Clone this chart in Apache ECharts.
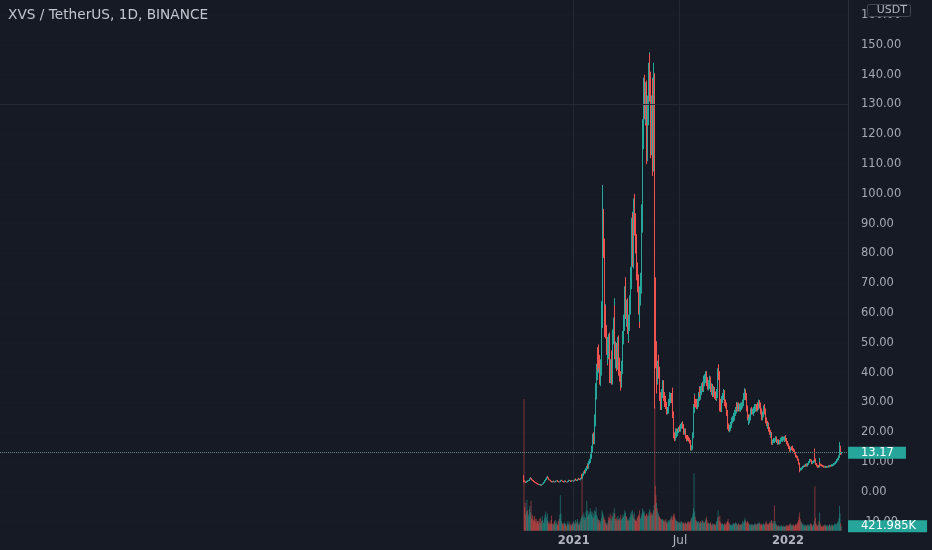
<!DOCTYPE html>
<html><head><meta charset="utf-8">
<script src="https://cdn.jsdelivr.net/npm/echarts@6/dist/echarts.min.js"></script>
<style>html,body{margin:0;padding:0;background:#161a25;}#c{width:932px;height:550px;}</style>
</head><body><div id="c"></div>
<script>
// ---------------- data ----------------
const chartTitle = 'XVS / TetherUS, 1D, BINANCE';
const currency = 'USDT';
const timeLabels = { '2021-01-01': '2021', '2021-07-01': 'Jul', '2022-01-01': '2022' };
const gridDates = ['2021-01-01', '2021-07-01'];
const priceMin = -10, priceMax = 160, priceStep = 10;
const refLevel = 130;
const firstDay = '2020-10-08';
const firstOpen = 4.6;

// daily closes, by month (open = previous close)
const closes = {
  '2020-10': [3.8,3.5,3.3,3.2,3.4, 3.6,3.5,3.7,3.9,4.1, 4.4,4.7,4.5,4.2,4.0, 3.8,3.7,3.5,3.3,3.2, 3.0,2.9,2.8,2.7],
  '2020-11': [2.6,2.5,2.4,2.5,2.3, 2.4,2.3,2.5,2.7,2.9, 3.2,3.5,3.8,4.2,4.5, 4.8,5.0,4.7,4.4,4.1, 3.9,3.7,3.6,3.4,3.3, 3.5,3.6,3.4,3.3,3.4],
  '2020-12': [3.5,3.6,3.8,3.7,3.5, 3.4,3.3,3.4,3.6,3.8, 3.9,3.7,3.5,3.4,3.3, 3.5,3.7,3.6,3.4,3.3, 3.4,3.5,3.7,3.9,3.8, 3.6,3.5,3.6,3.8,3.7, 3.6],
  '2021-01': [3.7,3.9,4.1,4.3,4.0, 3.8,4.0,4.2,4.5,4.3, 4.1,4.4,4.6,4.9,4.6, 5.3,5.8,6.5,7.0,6.6, 6.9,7.5,8.2,8.8,8.3, 9.0,9.8,10.5,11.2,12.0, 12.6],
  '2021-02': [14.5,16,18.5,17.5,21, 24,29,34,40,46, 43,47,44,41,38, 42,45,60,78,88, 82,66,57,60,54, 48,45,50],
  '2021-03': [47,51,44,39,42, 45,38,44,52,56, 60,47,44,48,45, 43,50,46,41,43, 39,37,40,42,46, 52,57,62,66,69, 61],
  '2021-04': [58,62,56,53,57, 60,63,72,80,88, 90,79,88,96,90, 86,83,78,74,70, 66,62,60,66,70, 78,92,112,120,128],
  '2021-05': [135,130,128,133,125, 116,128,136,140,142, 136,130,118,128,134, 112,120,138,72,52, 44,48,38,42,44, 40,38,32,30,29, 33],
  '2021-06': [34,36,35,32,30, 31,29,28,27,27.5, 29,30,31.5,32,31, 32,31,30,26,24, 19,18,19.5,20.5,19, 19.5,20,20.5,21,21.5],
  '2021-07': [21,21.5,22,22.5,22.8, 22,21,20,20.5,19.5, 18.5,18,17.6,18.5,18, 17.5,17,16.8,15.5,14.5, 15,16.5,19,23,28, 31,30,29.5,30,29, 29.5],
  '2021-08': [30,32,34,33,32.5, 34,35,35.5,35,36, 37.5,37,38,39,38.5, 37,36.5,35.5,36,36.6, 37.5,36,35,34,35, 33,33.5,34,33,32.5, 32],
  '2021-09': [32,33,36,40,39, 37,30,29,28,30, 31,32,33,33,31, 30,29,27.5,26.5,24, 22,21.5,21,21.5,22, 22.5,23,24,24.5,25],
  '2021-10': [25.5,25,26.5,27.5,29, 28,28.5,29,28.5,28, 28.6,28,29,28.5,29, 30,31,32,33,33.6, 32,30,28,26,25, 23.5,24,25,26,27, 27.5],
  '2021-11': [27,27,26.5,27.5,28, 28.5,28,28.5,28,29, 28.5,29.5,30,29,28, 27,26.5,25,26,27, 28,28.5,27,25.5,24, 23,22,22.5,22,21],
  '2021-12': [20,19,19.5,17,16.8, 16.4,17,17.5,17,17.5, 18,18,17,16.5,16.8, 17,16.5,16.8,17.2,17.5, 17.8,18,17.4,17.8,18, 17.4,18,18.5,17.5,16.5, 16],
  '2022-01': [15.8,15.5,15,14.8,14, 14.5,14.8,14.5,15,14.2, 13.8,13.4,13,12.5,12, 11.7,11.2,10.8,10.5,9.5, 8.2,7.4,7.8,7.6,7.9, 8.2,8.4,8.6,8.8,8.7, 9.0],
  '2022-02': [9.2,9.0,8.8,9.4,9.7, 10.0,10.4,10.7,10.5,10.0, 9.6,9.8,10.0,10.3,11.6, 10.8,10.2,9.4,9.0,8.8, 8.4,8.6,8.5,9.7,9.2, 9.0,8.9,8.8],
  '2022-03': [8.7,8.6,8.5,8.4,8.5, 8.4,8.3,8.4,8.4,8.5, 8.6,8.5,8.6,8.8,8.7, 8.9,9.0,8.9,9.0,9.2, 9.4,9.6,9.8,10.0,10.3, 10.6,11.0,11.4,11.8,12.2, 14.0],
  '2022-04': [12.8,13.17]
};

// typical daily wick length beyond the body, by month (price units)
const wickLen = {
  '2020-10': [0,.15,.1,.2,.15, .1,.2,.15,.1,.25, .15,.25,.1,.15,.1, .15,.1,.2,.1,.15, .1,.15,.1,.1],
  '2020-11': [.1,.15,.1,.15,.1, .1,.15,.1,.15,.1, .15,.2,.15,.25,.2, .25,.25,.15,.2,.15, .1,.15,.1,.15,.1, .15,.1,.15,.1,.1],
  '2020-12': [.1,.15,.1,.1,.15, .1,.1,.15,.1,.15, .2,.1,.1,.15,.1, .1,.15,.1,.1,.1, .15,.1,.15,.2,.1, .1,.15,.1,.15,.1, .1],
  '2021-01': [.1,.15,.1,.2,.15, .1,.15,.15,.2,.15, .15,.2,.2,.25,.3, .25,.3,.4,.45,.35, .4,.45,.5,.6,.45, .55,.65,.6,.75,.8, .9],
  '2021-02': [1,1.2,1,1.5,1.5, 2,2,2.5,3,2.5, 2.5,2,2.5,2,2, 2.5,3,4,5,3, 3.5,3,2.5,3,2.5, 2,2.5,2],
  '2021-03': [2.5,2,2.5,2,2.5, 2,2.5,2,2.5,2.5, 2.5,2.5,2,2.5,2, 2.5,2,2.5,2,2, 2,1.5,2,2,2.5, 2.5,2.5,3,3,3, 3],
  '2021-04': [2.5,2.5,3,2.5,2.5, 3,3,3.5,4,4, 4,3.5,4,4,4, 3.5,3.5,3.5,3,3, 3,2.5,3,3,3.5, 3.5,4.5,5,5,5],
  '2021-05': [5,5,5,4.5,5, 4.5,5,5,4,4, 5,5,4.5,5,5, 4.5,4.5,4,2.5,3, 2.5,2.5,2.5,2,2, 2,2,1.5,1.5,1.5, 1.5],
  '2021-06': [1.5,1.5,1.5,1.5,1.5, 1.2,1.2,1.2,1,1, 1.2,1.2,1.2,1.5,1.2, 1.2,1.2,1.2,1.2,1, 1,1,.8,.8,.8, .8,.8,.8,.8,.8],
  '2021-07': [.8,.8,.8,.8,.8, .8,.8,.8,.8,.8, .6,.6,.6,.6,.6, .6,.6,.6,.6,.6, .6,.8,1,1,1.5, 1.5,1.5,1.2,1.2,1.2, 1.2],
  '2021-08': [1.2,1.5,1.5,1.2,1.5, 1.5,1.5,1.5,1.2,1.5, 1.5,1.5,1.5,1.5,1.5, 1.5,1.5,1.2,1.5,1.5, 1.5,1.2,1.5,1.2,1.5, 1.2,1.2,1.5,1.2,1.2, 1.2],
  '2021-09': [1.2,1.5,1.5,1.5,1.5, 1.5,1.5,1.2,1.2,1.2, 1.2,1.2,1.2,1.5,1.2, 1.2,1,1,1,1, 1,1,1,1,1, 1,1,1,1,1],
  '2021-10': [1,1,1,1,1.2, 1,1,1,1,1, 1,1,1,1,1, 1,1.2,1.2,1.2,1.2, 1.2,1.2,1,1,1, 1,1,1,1,1, 1],
  '2021-11': [1,1,1,1,1, 1,1,1,1,1, 1,1,1,1,1, 1,1,1,1,1, 1,1,1,1,1, 1,.8,.8,.8,.8],
  '2021-12': [.8,.8,.6,.6,.6, .6,.6,.6,.6,.6, .6,.6,.6,.6,.6, .6,.6,.6,.6,.6, .6,.6,.6,.6,.6, .6,.6,.6,.6,.6, .6],
  '2022-01': [.5,.5,.6,.5,.5, .5,.45,.5,.5,.45, .45,.4,.4,.4,.4, .4,.35,.35,.35,.35, .35,.3,.3,.3,.3, .3,.3,.3,.3,.3, .3],
  '2022-02': [.3,.3,.3,.3,.35, .35,.35,.4,.35,.35, .3,.3,.35,.35,.45, .4,.4,.35,.3,.3, .3,.3,.3,.3,.3, .3,.25,.25],
  '2022-03': [.25,.25,.25,.25,.25, .25,.25,.25,.25,.25, .25,.25,.25,.25,.25, .25,.3,.25,.3,.3, .3,.3,.35,.35,.35, .4,.4,.4,.45,.45, .45],
  '2022-04': [.4,.25]
};

// notable wicks: date -> [high, low]
const wicks = {
  '2020-10-08': [5.6, 3.2], '2020-10-19': [5.0, null], '2020-11-05': [null, 2.1], '2020-11-17': [5.4, null],
  '2021-01-15': [6.0, 4.4], '2021-01-24': [9.6, null], '2021-02-10': [48.5, null], '2021-02-12': [49, 40],
  '2021-02-15': [null, 36], '2021-02-20': [103, 78], '2021-02-21': [95, null], '2021-02-23': [null, 52],
  '2021-03-04': [null, 36.5], '2021-03-07': [null, 36], '2021-03-11': [65, null], '2021-03-22': [null, 34],
  '2021-03-26': [54, null], '2021-03-30': [72, null], '2021-04-04': [null, 50], '2021-04-10': [92, null],
  '2021-04-14': [98.5, null], '2021-04-17': [null, 80], '2021-04-23': [null, 55], '2021-04-28': [122, null],
  '2021-05-01': [139, null], '2021-05-06': [null, 110], '2021-05-10': [147.5, null], '2021-05-13': [null, 112],
  '2021-05-16': [null, 106], '2021-05-18': [144, null], '2021-05-19': [null, 28], '2021-05-20': [60, 45],
  '2021-05-23': [null, 33], '2021-06-18': [35, null], '2021-06-22': [null, 17], '2021-07-21': [null, 13.8],
  '2021-07-26': [33, null], '2021-08-15': [40.5, null], '2021-09-05': [42.8, null], '2021-09-07': [null, 27],
  '2021-09-23': [null, 20.3], '2021-10-21': [34.5, null], '2021-11-14': [30.8, null], '2021-12-04': [null, 15.8],
  '2022-01-22': [null, 6.6], '2022-02-16': [14.6, null], '2022-02-24': [11.4, null], '2022-03-31': [16.8, null],
  '2022-04-01': [15.5, null]
};

// daily volume, thousands of XVS
const volumes = {
  '2020-10': [12300,2200,2600,1500,1800, 2900,1900,1300,1500,2000, 2300,1700,2800,1100,1500, 1300,900,1000,1400,1100, 800,1100,700,900],
  '2020-11': [900,700,1100,800,1200, 600,900,1400,1000,800, 700,1200,1500,1800,1300, 1000,1600,900,700,600, 800,600,1000,1400,700, 600,500,700,900,700],
  '2020-12': [1000,600,800,600,500, 900,1100,1500,3300,1600, 900,700,600,700,500, 800,700,600,500,400, 700,900,600,500,800, 600,400,500,700,600, 800],
  '2021-01': [900,600,700,1000,600, 800,1100,800,600,500, 700,900,1100,1300,5400, 1500,1200,1700,1300,1000, 1200,1800,2800,1900,1300, 1500,1800,1600,2100,1800, 1500],
  '2021-02': [1800,1300,1600,1200,1900, 1400,1800,2200,1500,1300, 1100,1000,800,1000,700, 900,1200,1900,1700,1500, 1300,1100,1000,800,700, 600,500,800],
  '2021-03': [1300,1000,1200,1600,1100, 900,1400,1200,1700,1500, 2100,1600,1100,900,1200, 1000,1400,1100,900,1200, 1000,1500,1100,900,1200, 1500,1300,1600,1900,1700, 1400],
  '2021-04': [1300,1100,1000,900,1200, 1000,1300,1600,1800,1500, 1900,1500,1200,1700,1100, 1000,900,900,1200,1300, 1400,1500,1900,1200,1100, 1400,1600,2100,1900,1700],
  '2021-05': [1800,1500,1400,1300,1600, 1500,1300,1400,1700,2000, 1500,1800,1600,1400,1500, 1700,1900,2400,11650,4200, 3300,2600,2100,1800,1600, 1400,1300,1200,1100,1000, 1100],
  '2021-06': [1100,1000,900,1000,800, 900,1100,800,700,800, 1000,800,900,1000,1100, 1400,1200,1000,1300,1500, 1600,1300,1100,1000,900, 800,900,800,700,800],
  '2021-07': [800,700,900,800,700, 800,700,600,700,800, 700,600,700,800,900, 800,700,800,900,1100, 1200,1300,1600,2100,5360, 1800,1300,1000,900,800, 800],
  '2021-08': [900,800,700,800,900, 700,800,1000,900,800, 700,800,900,1100,1300, 1000,700,800,700,600, 700,800,600,500,600, 700,600,500,600,500, 600],
  '2021-09': [800,900,1200,1900,1300, 900,1400,800,700,600, 700,600,500,600,700, 600,500,700,800,900, 1100,800,700,600,500, 600,500,500,600,700],
  '2021-10': [700,600,700,800,700, 600,500,600,700,600, 500,600,500,600,700, 900,700,800,1000,1200, 900,800,700,900,800, 700,600,500,600,500, 600],
  '2021-11': [500,600,500,500,600, 700,600,500,600,700, 600,700,800,700,600, 500,600,500,600,700, 600,500,600,700,900, 700,600,500,600,700],
  '2021-12': [800,700,900,1000,800, 700,600,900,2350,900, 700,600,500,400,500, 400,500,400,400,400, 500,400,400,400,500, 400,400,400,500,400, 500],
  '2022-01': [500,400,500,600,700, 600,500,400,500,600, 500,400,500,600,500, 600,700,800,1000,1300, 1700,1100,900,800,700, 600,500,600,500,400, 500],
  '2022-02': [500,400,500,600,500, 400,500,600,700,600, 500,400,500,600,900, 4140,1200,700,500,400, 500,600,900,1700,700, 500,400,400],
  '2022-03': [400,500,400,500,600, 500,400,500,400,500, 400,500,600,500,400, 500,600,500,400,500, 600,700,600,500,600, 700,800,900,1200,2300, 1600],
  '2022-04': [700,421.985]
};

// ---------------- build ----------------
const UP = '#26a69a', DOWN = '#ef5350';
const UPV = 'rgba(38,166,154,0.5)', DOWNV = 'rgba(239,83,80,0.5)';
const BG = '#161a25';
const FONT = 'DejaVu Sans';
const DAY = 86400000;
const NCAT = 1446, IDX2021 = 978;           // visible time window in days
const t0 = Date.UTC(2021, 0, 1) - IDX2021 * DAY;
const cats = [];
for (let i = 0; i < NCAT; i++) cats.push(new Date(t0 + i * DAY).toISOString().slice(0, 10));
const catIndex = ds => Math.round((Date.parse(ds + 'T00:00:00Z') - t0) / DAY);

const candles = [], vols = [];
let prev = firstOpen, lastClose = null, lastVol = null, lastUp = true;
Object.keys(closes).forEach(m => {
  const d0 = (m === firstDay.slice(0, 7)) ? +firstDay.slice(8) : 1;
  closes[m].forEach((c, i) => {
    const ds = m + '-' + String(d0 + i).padStart(2, '0');
    const o = prev, w = wicks[ds] || [null, null];
    const wl = (wickLen[m] && wickLen[m][i] != null) ? wickLen[m][i] : 0;
    const hi = w[0] != null ? Math.max(o, c, w[0]) : Math.max(o, c) + wl;
    const lo = w[1] != null ? Math.min(o, c, w[1]) : Math.min(o, c) - wl;
    const k = catIndex(ds);
    candles.push([k, o, c, lo, hi]);
    const v = volumes[m][i];
    if (v != null) vols.push({ value: [k, v], itemStyle: { color: c >= o ? UPV : DOWNV } });
    prev = c; lastClose = c; lastVol = v; lastUp = c >= o;
  });
});

const chart = echarts.init(document.getElementById('c'), null, { renderer: 'canvas' });
const hiddenX = gi => ({ type: 'category', gridIndex: gi, data: cats, boundaryGap: true, show: false });
chart.setOption({
  animation: false,
  backgroundColor: BG,
  title: { text: chartTitle, left: 3, top: 3, textStyle: { color: '#c3c6ce', fontSize: 13.7, fontWeight: 'normal', fontFamily: FONT } },
  grid: [
    { left: 0, right: 84, top: 0, bottom: 19.3 },        // background / time axis
    { left: 0, right: 84, top: 15.1, bottom: 28.3 },     // price
    { left: 0, right: 84, top: 399, bottom: 19.3 }       // volume
  ],
  xAxis: [
    { type: 'category', gridIndex: 0, data: cats, boundaryGap: true,
      axisLine: { show: false }, axisTick: { show: false },
      axisLabel: { interval: (i, v) => v in timeLabels, hideOverlap: false, margin: 4,
        formatter: v => { const t = timeLabels[v] || ''; return /^\d+$/.test(t) ? '{b|' + t + '}' : '{n|' + t + '}'; },
        rich: { b: { color: '#b2b5be', fontSize: 11.5, fontWeight: 'bold', fontFamily: FONT },
                n: { color: '#b2b5be', fontSize: 12, fontFamily: FONT } } },
      splitLine: { show: true, interval: (i, v) => gridDates.indexOf(v) >= 0, lineStyle: { color: '#232733', width: 1 } } },
    hiddenX(1), hiddenX(2)
  ],
  yAxis: [
    { type: 'value', gridIndex: 0, min: 0, max: 1, position: 'right',
      axisLine: { show: true, lineStyle: { color: '#2a2e39' } }, axisTick: { show: false }, axisLabel: { show: false }, splitLine: { show: false } },
    { type: 'value', gridIndex: 1, position: 'right', min: priceMin, max: priceMax, interval: priceStep,
      axisLine: { show: false }, axisTick: { show: false },
      axisLabel: { color: '#a6a9b2', fontSize: 11.5, fontFamily: FONT, margin: 13, formatter: v => v.toFixed(2) },
      splitLine: { show: true, lineStyle: { color: '#181c27', width: 1 } } },
    { type: 'value', gridIndex: 2, min: 0, max: 'dataMax', show: false, splitLine: { show: false } }
  ],
  series: [
    { type: 'bar', xAxisIndex: 2, yAxisIndex: 2, data: vols, barWidth: 1, large: false,
      markLine: { silent: true, symbol: 'none', animation: false,
        lineStyle: { color: 'rgba(0,0,0,0)', width: 0 },
        data: [{ yAxis: lastVol }],
        label: { show: true, position: 'end', distance: 0, formatter: lastVol.toFixed(3) + 'K',
          color: '#ffffff', backgroundColor: lastUp ? UP : DOWN, padding: [0, 11, 0, 13],
          lineHeight: 12, fontSize: 11.5, fontFamily: FONT } } },
    { type: 'candlestick', xAxisIndex: 1, yAxisIndex: 1, data: candles, large: false,
      encode: { x: 0, y: [1, 2, 3, 4] }, barWidth: 0.1,
      itemStyle: { color: UP, color0: DOWN, borderColor: UP, borderColor0: DOWN, borderWidth: 1 },
      markLine: { silent: true, symbol: 'none', animation: false,
        data: [
          { yAxis: lastClose, lineStyle: { type: 'dotted', color: '#5e8783', width: 1 },
            label: { show: true, position: 'end', distance: 0, formatter: lastClose.toFixed(2),
              color: '#ffffff', backgroundColor: lastUp ? UP : DOWN, padding: [0, 12, 0, 13],
              lineHeight: 12, fontSize: 11.5, fontFamily: FONT } },
          { yAxis: refLevel, lineStyle: { type: 'solid', color: '#252935', width: 1 }, label: { show: false } }
        ] } }
  ],
  graphic: [
    { type: 'rect', right: 21, top: 4, z: 100, shape: { x: 0, y: 0, width: 43, height: 12, r: 2 },
      style: { fill: BG, stroke: '#434651', lineWidth: 1 } },
    { type: 'text', right: 25, top: 4.5, z: 101, style: { text: currency, fill: '#b2b5be', font: '11px "DejaVu Sans"' } }
  ]
});
</script></body></html>
